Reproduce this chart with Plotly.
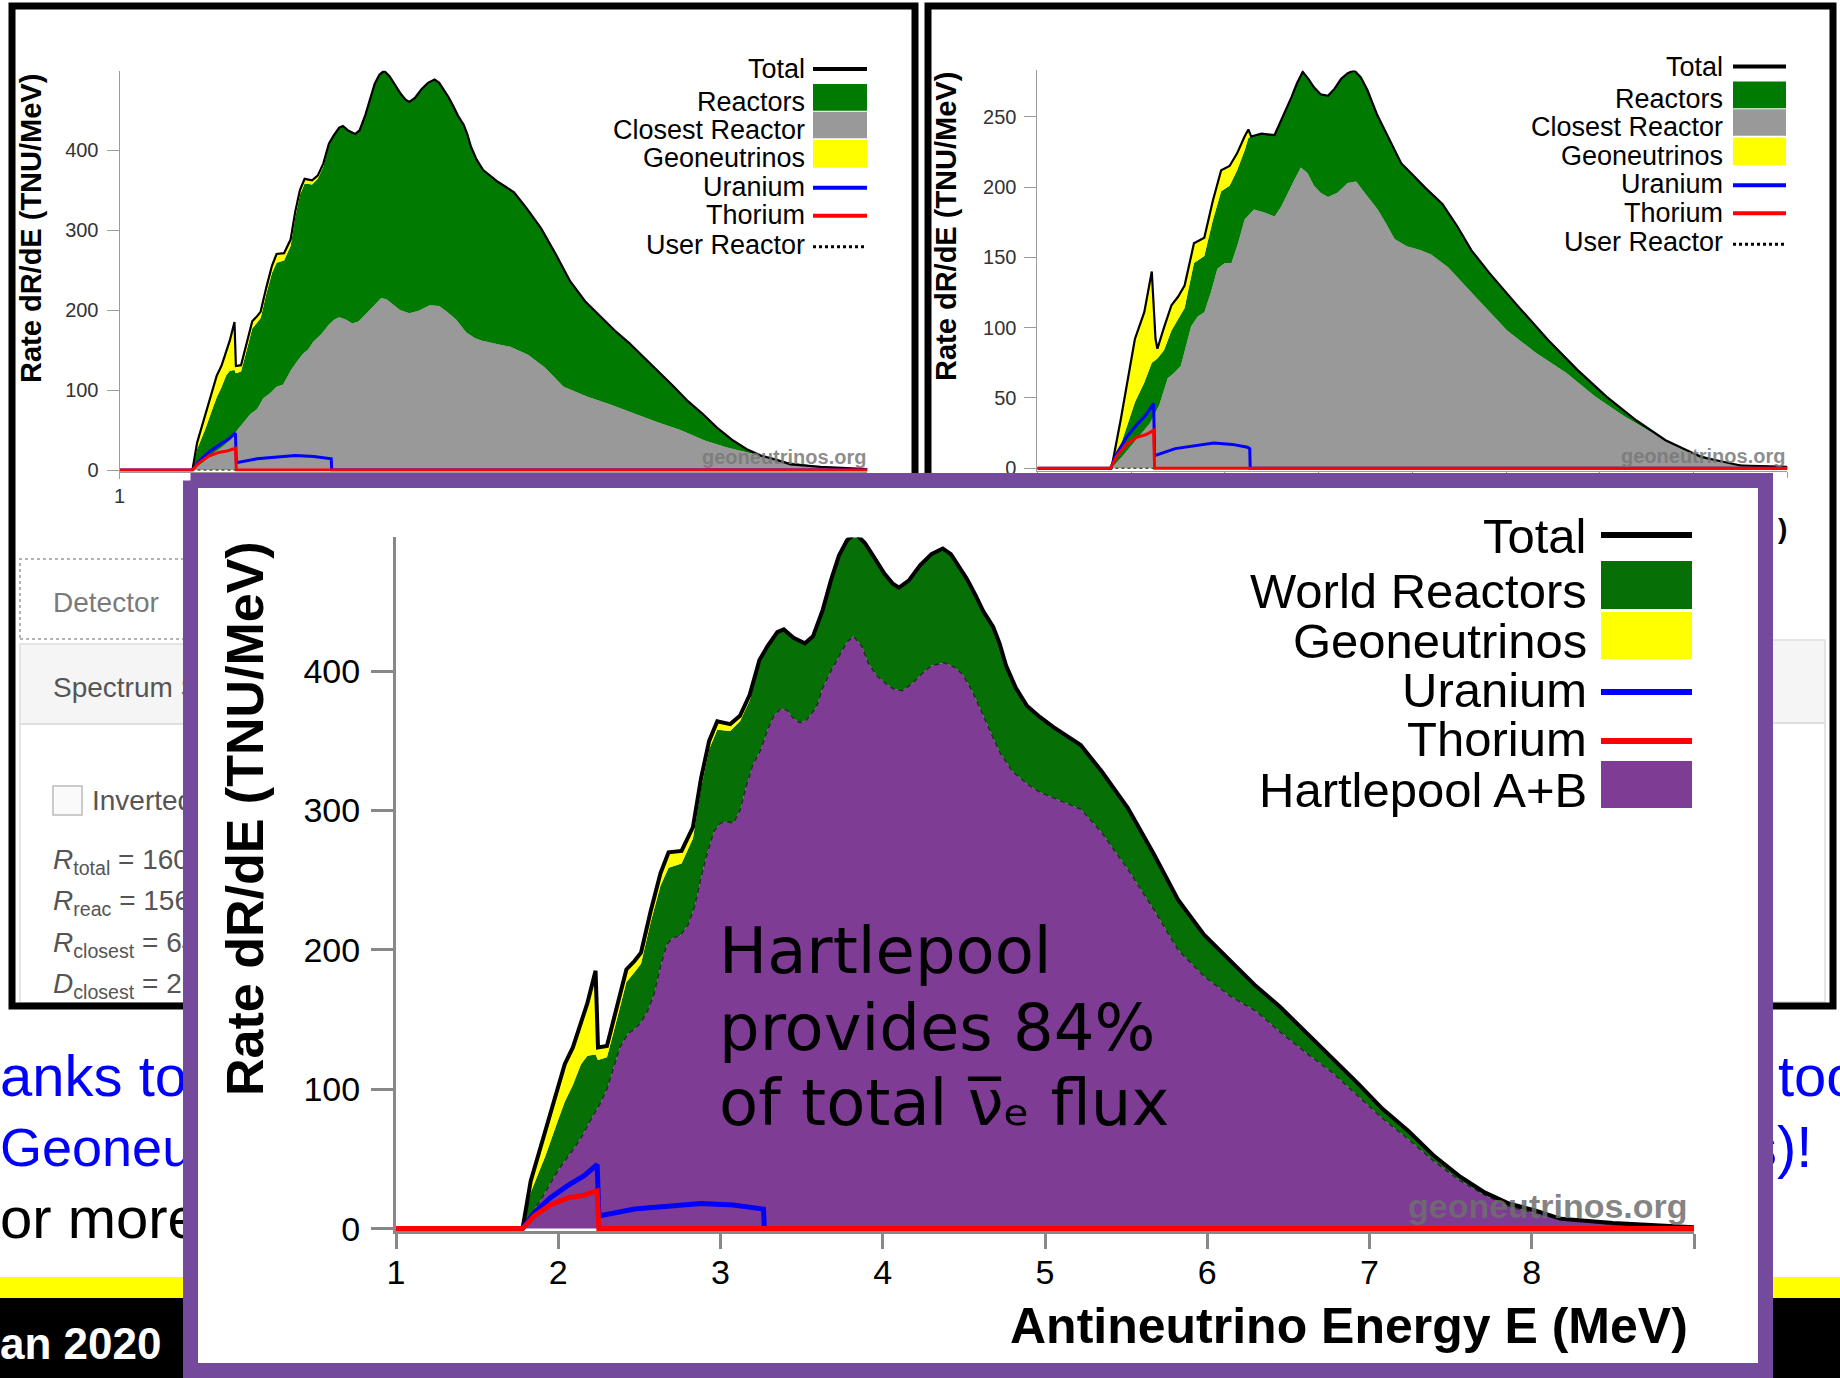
import plotly.graph_objects as go

W, H = 1840, 1378


def px(x):
    return x / W


def py(y):
    return 1 - y / H


# ------------------------------------------------------------------ data
# main chart (Hartlepool detector)
E_tot = [1.00, 1.78, 1.83, 1.92, 1.99, 2.04, 2.09, 2.14, 2.18, 2.23,
         2.245, 2.30, 2.35, 2.42, 2.47, 2.51, 2.57, 2.63, 2.68, 2.76,
         2.83, 2.88, 2.93, 2.98, 3.06, 3.12, 3.18, 3.24, 3.29, 3.35,
         3.39, 3.45, 3.52, 3.57, 3.63, 3.68, 3.73, 3.78, 3.83, 3.89,
         3.94, 4.01, 4.06, 4.10, 4.16, 4.23, 4.30, 4.37, 4.42, 4.47,
         4.52, 4.57, 4.62, 4.68, 4.72, 4.76, 4.82, 4.89, 4.97, 5.05,
         5.13, 5.22, 5.35, 5.51, 5.67, 5.82, 5.98, 6.14, 6.30, 6.45,
         6.61, 6.77, 6.93, 7.08, 7.24, 7.39, 7.55, 7.71, 7.86, 8.02,
         8.18, 8.50, 9.00]
total = [0, 0, 34, 70, 100, 118, 130, 148, 162, 185,
         130, 131, 154, 186, 192, 198, 228, 255, 270, 271,
         288, 323, 350, 364, 362, 368, 383, 408, 418, 428,
         430, 424, 420, 425, 444, 465, 483, 494, 499, 492,
         483, 470, 463, 460, 465, 476, 484, 488, 484, 475,
         466, 455, 443, 432, 420, 404, 388, 375, 367, 360,
         354, 347, 328, 302, 269, 236, 211, 192, 174, 159,
         141, 123, 104, 86, 70, 53, 38, 26, 18, 13,
         7, 4, 1]
world_reactors = [0, 0, 26, 52, 75, 91, 103, 118, 124, 125,
                  121, 123, 145, 177, 184, 190, 220, 246, 259, 262,
                  280, 316, 344, 358, 357, 364, 379, 405, 418, 428,
                  430, 424, 420, 425, 444, 465, 483, 494, 499, 492,
                  483, 470, 463, 460, 465, 476, 484, 488, 484, 475,
                  466, 455, 443, 432, 420, 404, 388, 375, 367, 360,
                  354, 347, 328, 302, 269, 236, 211, 192, 174, 159,
                  141, 123, 104, 86, 70, 53, 38, 26, 18, 13,
                  7, 4, 1]
E_hp = [1.00, 1.78, 1.83, 1.89, 1.95, 2.00, 2.05, 2.10, 2.15, 2.20,
        2.26, 2.30, 2.34, 2.38, 2.43, 2.47, 2.51, 2.55, 2.59, 2.63,
        2.67, 2.71, 2.75, 2.80, 2.84, 2.88, 2.92, 2.96, 3.00, 3.04,
        3.08, 3.12, 3.16, 3.20, 3.25, 3.29, 3.33, 3.37, 3.41, 3.45,
        3.49, 3.53, 3.59, 3.63, 3.68, 3.73, 3.78, 3.82, 3.87, 3.91,
        3.96, 4.02, 4.07, 4.12, 4.18, 4.24, 4.30, 4.38, 4.44, 4.49,
        4.55, 4.60, 4.66, 4.72, 4.80, 4.89, 4.97, 5.05, 5.13, 5.22,
        5.35, 5.51, 5.67, 5.82, 5.98, 6.14, 6.30, 6.45, 6.61, 6.77,
        6.93, 7.08, 7.24, 7.39, 7.55, 7.71, 7.86, 8.02, 8.18, 8.50,
        9.00]
hartlepool = [0, 0, 10, 20, 32, 42, 50, 58, 67, 78,
              90, 100, 115, 130, 140, 143, 148, 156, 168, 188,
              204, 209, 210, 218, 231, 252, 270, 285, 291, 292,
              291, 300, 318, 333, 344, 358, 368, 373, 372, 366,
              363, 365, 374, 388, 400, 411, 421, 425, 418, 406,
              397, 391, 387, 386, 391, 398, 404, 406, 403, 398,
              386, 373, 357, 342, 328, 319, 313, 309, 305, 301,
              284, 258, 229, 200, 181, 167, 156, 141, 126, 112,
              95, 79, 64, 49, 35, 24, 16, 11, 7, 3,
              1]
E_U = [1.00, 1.78, 1.85, 1.95, 2.06, 2.16, 2.24, 2.25, 2.47, 2.67, 2.88, 3.08, 3.24, 3.265, 3.27, 9.00]
uranium = [0, 0, 11, 22, 31, 38, 46, 9, 14, 16, 18, 17, 15, 14, 0, 0]
E_Th = [1.00, 1.78, 1.85, 1.95, 2.06, 2.16, 2.24, 2.25, 9.00]
thorium = [0, 0, 9, 17, 22, 24, 27, 0, 0]
E_user = [1.0, 9.0]
user_reactor = [0, 0]

# top-left screenshot: closest reactor (other curves as main chart)
E_cl = [1.00, 1.78, 1.90, 2.00, 2.10, 2.20, 2.26, 2.33, 2.40, 2.47,
        2.54, 2.61, 2.68, 2.75, 2.83, 2.90, 2.96, 3.02, 3.07, 3.16,
        3.24, 3.30, 3.35, 3.42, 3.49, 3.56, 3.64, 3.72, 3.80, 3.86,
        3.92, 4.00, 4.10, 4.20, 4.32, 4.42, 4.50, 4.60, 4.71, 4.80,
        4.87, 4.97, 5.06, 5.18, 5.37, 5.55, 5.75, 6.00, 6.25, 6.50,
        6.75, 7.00, 7.26, 7.50, 7.76, 8.14, 8.64, 9.00]
closest = [0, 0, 10, 21, 29, 39, 50, 60, 70, 76,
           90, 96, 104, 107, 124, 136, 145, 151, 160, 170,
           182, 188, 191, 188, 183, 186, 196, 206, 215, 213,
           207, 200, 196, 199, 206, 205, 198, 188, 172, 165,
           162, 159, 157, 154, 144, 128, 104, 92, 82, 71,
           60, 50, 37, 28, 21, 10, 2, 0.5]

# top-right screenshot
E_tr = [1.00, 1.79, 1.89, 2.04, 2.14, 2.22, 2.26, 2.28, 2.35, 2.43,
        2.50, 2.57, 2.67, 2.78, 2.87, 2.96, 3.05, 3.13, 3.21, 3.25,
        3.28, 3.39, 3.53, 3.62, 3.71, 3.77, 3.83, 3.89, 3.95, 4.02,
        4.10, 4.17, 4.24, 4.31, 4.38, 4.45, 4.52, 4.62, 4.74, 4.88,
        5.00, 5.13, 5.32, 5.48, 5.63, 5.82, 6.13, 6.45, 6.76, 7.07,
        7.39, 7.70, 8.08, 8.50, 9.00]
total_tr = [0, 0, 35, 92, 111, 140, 92, 85, 100, 116,
            122, 130, 160, 164, 190, 212, 215, 224, 236, 241,
            236, 238, 237, 250, 264, 274, 282, 277, 271, 266,
            265, 270, 277, 281, 283, 278, 269, 252, 236, 217,
            209, 200, 188, 172, 155, 139, 115, 91, 70, 51,
            34, 20, 8, 2, 1]
reactors_tr = [0, 0, 17, 47, 61, 75, 77, 78, 84, 98,
               106, 114, 146, 151, 176, 197, 201, 212, 226, 235,
               236, 238, 237, 250, 264, 274, 282, 277, 271, 266,
               265, 270, 277, 281, 283, 278, 269, 252, 236, 217,
               209, 200, 188, 172, 155, 139, 115, 91, 70, 51,
               34, 20, 8, 2, 1]
E_ctr = [1.00, 1.79, 1.90, 2.00, 2.10, 2.20, 2.30, 2.39, 2.46, 2.53,
         2.64, 2.71, 2.78, 2.85, 2.92, 3.00, 3.07, 3.14, 3.21, 3.31,
         3.42, 3.53, 3.60, 3.67, 3.74, 3.81, 3.88, 3.95, 4.02, 4.10,
         4.20, 4.31, 4.40, 4.49, 4.63, 4.72, 4.81, 4.94, 5.09, 5.20,
         5.38, 5.70, 6.01, 6.32, 6.64, 6.95, 7.26, 7.57, 7.89, 8.39,
         9.00]
closest_tr = [0, 0, 8, 16, 24, 32, 45, 64, 68, 73,
              101, 108, 111, 125, 142, 146, 146, 160, 177, 184,
              182, 179, 186, 196, 205, 214, 210, 201, 196, 193,
              196, 203, 204, 196, 184, 174, 163, 158, 155, 152,
              143, 120, 98, 82, 68, 51, 37, 25, 13, 3,
              1]

x_ticks_main = [1, 2, 3, 4, 5, 6, 7, 8]
x_ticks_main_minor = [9]
x_ticks_top = [1]
x_ticks_top_minor = [2, 3, 4, 5, 6, 7, 8, 9]
y_ticks_main = [0, 100, 200, 300, 400]
y_ticks_tr = [0, 50, 100, 150, 200, 250]
legend_main = ["Total", "World Reactors", "Geoneutrinos", "Uranium", "Thorium", "Hartlepool A+B"]
legend_top = ["Total", "Reactors", "Closest Reactor", "Geoneutrinos", "Uranium", "Thorium", "User Reactor"]

# ------------------------------------------------------------------ style
SANS = "Liberation Sans, Arial, sans-serif"
NARROW = "Liberation Sans Narrow, Liberation Sans, Arial, sans-serif"
GREEN_TOP = "#007a00"
GREEN_MAIN = "#066f06"
GRAY = "#999999"
YELLOW = "#ffff00"
BLUE = "#0000ff"
RED = "#ff0000"
PURPLE_FILL = "#7e3c95"
PURPLE_FRAME = "#744a9c"

fig = go.Figure()


def bg_text(x, y, s, size, color, pos, family=SANS):
    fig.add_trace(go.Scatter(x=[x], y=[y], text=[s], mode="text", textposition=pos,
                             textfont=dict(size=size, color=color, family=family),
                             xaxis="x", yaxis="y", hoverinfo="skip"))


# ---- slide / web-page text lying under the overlay (subplot xy, pixel coords)
bg_text(0, 1081, "anks to", 58, BLUE, "middle right")
bg_text(0, 1152, "Geoneu", 54, BLUE, "middle right")
bg_text(0, 1223, "or more", 58, "black", "middle right")
bg_text(1778, 1081, "too", 58, BLUE, "middle right")
bg_text(1748, 1152, "s)!", 58, BLUE, "middle right")
bg_text(0, 1348, "<b>an 2020</b>", 44, "white", "middle right")
bg_text(53, 605, "Detector", 28, "#7a7a7a", "middle right")
bg_text(53, 690, "Spectrum S", 28, "#555555", "middle right")
bg_text(92, 803, "Inverted", 28, "#555555", "middle right")
bg_text(53, 862, "<i>R</i><sub>total</sub> = 160", 28, "#555555", "middle right")
bg_text(53, 903, "<i>R</i><sub>reac</sub> = 156", 28, "#555555", "middle right")
bg_text(53, 945, "<i>R</i><sub>closest</sub> = 64", 28, "#555555", "middle right")
bg_text(53, 986, "<i>D</i><sub>closest</sub> = 26", 28, "#555555", "middle right")


def add_top_panel(xa, ya, E_c, cl, E_t, tot, reac):
    common = dict(xaxis=xa, yaxis=ya, mode="lines", hoverinfo="skip")
    fig.add_trace(go.Scatter(x=E_c, y=cl, fill="tozeroy", fillcolor=GRAY, line=dict(width=0), **common))
    fig.add_trace(go.Scatter(x=E_t, y=reac, fill="tonexty", fillcolor=GREEN_TOP, line=dict(width=0), **common))
    fig.add_trace(go.Scatter(x=E_t, y=tot, fill="tonexty", fillcolor=YELLOW, line=dict(width=0), **common))
    fig.add_trace(go.Scatter(x=E_user, y=user_reactor, line=dict(color="#4b5d2a", width=1.5, dash="dot"), **common))
    fig.add_trace(go.Scatter(x=E_t, y=tot, line=dict(color="black", width=2.2), **common))
    fig.add_trace(go.Scatter(x=E_U, y=uranium, line=dict(color=BLUE, width=3), **common))
    fig.add_trace(go.Scatter(x=E_Th, y=thorium, line=dict(color=RED, width=3), **common))


add_top_panel("x2", "y2", E_cl, closest, E_tot, total, world_reactors)
add_top_panel("x3", "y3", E_ctr, closest_tr, E_tr, total_tr, reactors_tr)

# ---- overlay frame (subplot x4y4, pixel coords)
bx0, by0, bx1, by1 = 190.5, 480.5, 1765.5, 1370.5
fig.add_trace(go.Scatter(x=[bx0, bx1, bx1, bx0, bx0], y=[by0, by0, by1, by1, by0], mode="lines",
                         fill="toself", fillcolor="white", line=dict(color=PURPLE_FRAME, width=15),
                         xaxis="x4", yaxis="y4", hoverinfo="skip"))

# ---- main chart (x5y5)
mc = dict(xaxis="x5", yaxis="y5", mode="lines", hoverinfo="skip")
fig.add_trace(go.Scatter(x=E_hp, y=hartlepool, fill="tozeroy", fillcolor=PURPLE_FILL, line=dict(width=0), **mc))
fig.add_trace(go.Scatter(x=E_tot, y=world_reactors, fill="tonexty", fillcolor=GREEN_MAIN, line=dict(width=0), **mc))
fig.add_trace(go.Scatter(x=E_tot, y=total, fill="tonexty", fillcolor=YELLOW, line=dict(width=0), **mc))
fig.add_trace(go.Scatter(x=E_hp, y=hartlepool, line=dict(color="#2a2a2a", width=1.4, dash="5px,4px"), **mc))
fig.add_trace(go.Scatter(x=E_tot, y=total, line=dict(color="black", width=4), **mc))
fig.add_trace(go.Scatter(x=E_U, y=uranium, line=dict(color=BLUE, width=5), **mc))
fig.add_trace(go.Scatter(x=E_Th, y=thorium, line=dict(color=RED, width=5), **mc))

# ------------------------------------------------------------------ shapes
shapes = []


def rect(x0, y0, x1, y1, color=None, lw=0, fill=None, dash=None, layer="below"):
    shapes.append(dict(type="rect", xref="paper", yref="paper", x0=px(x0), x1=px(x1), y0=py(y1), y1=py(y0),
                       line=dict(color=color or "rgba(0,0,0,0)", width=lw, dash=dash),
                       fillcolor=fill or "rgba(0,0,0,0)", layer=layer))


def hline(x0, x1, y, color, lw, dash=None, layer="below"):
    shapes.append(dict(type="line", xref="paper", yref="paper", x0=px(x0), x1=px(x1), y0=py(y), y1=py(y),
                       line=dict(color=color, width=lw, dash=dash), layer=layer))


# slide bars
rect(0, 1277, W, 1298, fill=YELLOW)
rect(0, 1298, W, H, fill="black")
# web page widgets
rect(20, 644, 905, 724, color="#dddddd", lw=1.5, fill="#f5f5f5")
rect(20, 724, 905, 1003, color="#dddddd", lw=1.5)
rect(940, 640, 1825, 723, color="#dddddd", lw=1.5, fill="#f5f5f5")
rect(940, 723, 1825, 1002, color="#dddddd", lw=1.5)
rect(20, 559, 905, 639, color="#9a9a9a", lw=1.5, dash="dot")
rect(53, 786, 82, 815, color="#bbbbbb", lw=1.5, fill="#fafafa")
# screenshot frames
rect(12, 6, 915, 1006, color="black", lw=7)
rect(928, 6, 1833, 1006, color="black", lw=7)

# legends of the top screenshots
for (tx, sx0, sx1, dy) in [(807, 813, 867, 0), (1725, 1733, 1786, -2.5)]:
    hline(sx0, sx1, 69 + dy, "black", 4, layer="above")
    rect(sx0, 84 + dy, sx1, 110.7 + dy, fill=GREEN_TOP, layer="above")
    rect(sx0, 111.7 + dy, sx1, 138.3 + dy, fill=GRAY, layer="above")
    rect(sx0, 140 + dy, sx1, 167.7 + dy, fill=YELLOW, layer="above")
    hline(sx0, sx1, 187.7 + dy, BLUE, 4, layer="above")
    hline(sx0, sx1, 215.7 + dy, RED, 4, layer="above")
    hline(sx0, sx1, 246.7 + dy, "black", 3, dash="dot", layer="above")

# main legend swatches
hline(1601, 1692, 535, "black", 6, layer="above")
rect(1601, 561, 1692, 609, fill=GREEN_MAIN, layer="above")
rect(1601, 612, 1692, 659, fill=YELLOW, layer="above")
hline(1601, 1692, 692, BLUE, 6, layer="above")
hline(1601, 1692, 741, RED, 6, layer="above")
rect(1601, 761, 1692, 808, fill=PURPLE_FILL, layer="above")

# ------------------------------------------------------------------ annotations
ann = []


def text(x, y, s, size, color="black", xanchor="center", yanchor="middle", family=SANS, angle=0, pad=1):
    ann.append(dict(x=px(x), y=py(y), xref="paper", yref="paper", text=s, showarrow=False,
                    xanchor=xanchor, yanchor=yanchor, textangle=angle, borderpad=pad,
                    font=dict(size=size, color=color, family=family)))


# top screenshots
for (tx, dy) in [(807, 0), (1725, -2.5)]:
    for lab, yy in zip(legend_top, [69, 101.7, 130, 158.3, 186.7, 215, 245]):
        text(tx, yy + dy, lab, 27, xanchor="right", family=NARROW)
text(31, 229, "<b>Rate dR/dE (TNU/MeV)</b>", 29, angle=-90, family=NARROW)
text(946, 227, "<b>Rate dR/dE (TNU/MeV)</b>", 29, angle=-90, family=NARROW)
text(868, 457, "<b>geoneutrinos.org</b>", 20, color="rgba(120,120,120,0.85)", xanchor="right", family=NARROW)
text(1787, 456, "<b>geoneutrinos.org</b>", 20, color="rgba(120,120,120,0.85)", xanchor="right", family=NARROW)
text(1782, 528, "<b>)</b>", 28, family=NARROW)

# main chart
for lab, yy in zip(legend_main, [536, 591, 641, 690, 739, 790]):
    text(1588, yy, lab, 49, xanchor="right", pad=0)
text(245, 819, "<b>Rate dR/dE (TNU/MeV)</b>", 52, angle=-90)
text(1690, 1326, "<b>Antineutrino Energy E (MeV)</b>", 50, xanchor="right")
text(1690, 1206, "<b>geoneutrinos.org</b>", 34, color="rgba(110,110,110,0.85)", xanchor="right")
DJ = "DejaVu Sans, sans-serif"
text(718, 913, "Hartlepool", 64, xanchor="left", yanchor="top", family=DJ, pad=0)
text(718, 990, "provides 84%", 64, xanchor="left", yanchor="top", family=DJ, pad=0)
text(718, 1065, "of total \u03bd\u0305\u2091 flux", 64, xanchor="left", yanchor="top", family=DJ, pad=0)

# ------------------------------------------------------------------ layout
hidden = dict(visible=False, fixedrange=True, showgrid=False, zeroline=False)


def top_x(dom, anchor):
    return dict(domain=dom, range=[1, 9], anchor=anchor, showline=True, linecolor="#9a9a9a", linewidth=1,
                ticks="outside", ticklen=6, tickwidth=1, tickcolor="#9a9a9a", tickvals=x_ticks_top,
                tickfont=dict(size=20, color="#333333", family=NARROW),
                minor=dict(tickvals=x_ticks_top_minor, ticks="outside", ticklen=6, tickwidth=1,
                           tickcolor="#9a9a9a", showgrid=False),
                showgrid=False, zeroline=False, fixedrange=True)


def top_y(dom, rng, ticks, anchor):
    return dict(domain=dom, range=rng, anchor=anchor, showline=True, linecolor="#9a9a9a", linewidth=1,
                ticks="outside", ticklen=12, tickwidth=1, tickcolor="#9a9a9a", tickvals=ticks,
                tickfont=dict(size=20, color="#333333", family=NARROW), ticklabelstandoff=4,
                showgrid=False, zeroline=False, fixedrange=True)


fig.update_layout(
    width=W, height=H, margin=dict(l=0, r=0, t=0, b=0, pad=0, autoexpand=False),
    paper_bgcolor="white", plot_bgcolor="rgba(0,0,0,0)", showlegend=False, hovermode=False,
    xaxis=dict(domain=[0, 1], range=[0, W], anchor="y", **hidden),
    yaxis=dict(domain=[0, 1], range=[H, 0], anchor="x", **hidden),
    xaxis2=top_x([px(119.5), px(867.4)], "y2"),
    yaxis2=top_y([py(471.6), py(70.8)], [-2, 499], y_ticks_main, "x2"),
    xaxis3=top_x([px(1037.4), px(1787.4)], "y3"),
    yaxis3=top_y([py(471.1), py(70.4)], [-2, 283], y_ticks_tr, "x3"),
    xaxis4=dict(domain=[0, 1], range=[0, W], anchor="y4", **hidden),
    yaxis4=dict(domain=[0, 1], range=[H, 0], anchor="x4", **hidden),
    xaxis5=dict(domain=[px(396), px(1694)], range=[1, 9], anchor="y5", showline=True, linecolor="#888888",
                linewidth=3, ticks="outside", ticklen=15, tickwidth=3, tickcolor="#888888",
                tickvals=x_ticks_main, tickfont=dict(size=34, color="black", family=SANS),
                minor=dict(tickvals=x_ticks_main_minor, ticks="outside", ticklen=15, tickwidth=3,
                           tickcolor="#888888", showgrid=False),
                ticklabelstandoff=-6, showgrid=False, zeroline=False, fixedrange=True),
    yaxis5=dict(domain=[py(1231.4), py(537.4)], range=[-2, 496], anchor="x5", showline=True,
                linecolor="#888888", linewidth=3, ticks="outside", ticklen=22, tickwidth=3,
                tickcolor="#888888", tickvals=y_ticks_main, tickfont=dict(size=34, color="black", family=SANS),
                ticklabelstandoff=4, showgrid=False, zeroline=False, fixedrange=True),
    shapes=shapes,
    annotations=ann,
)

fig.write_html("out.html", config={"displayModeBar": False},
               post_script="document.body.style.margin='0px';document.documentElement.style.overflow='hidden';")
